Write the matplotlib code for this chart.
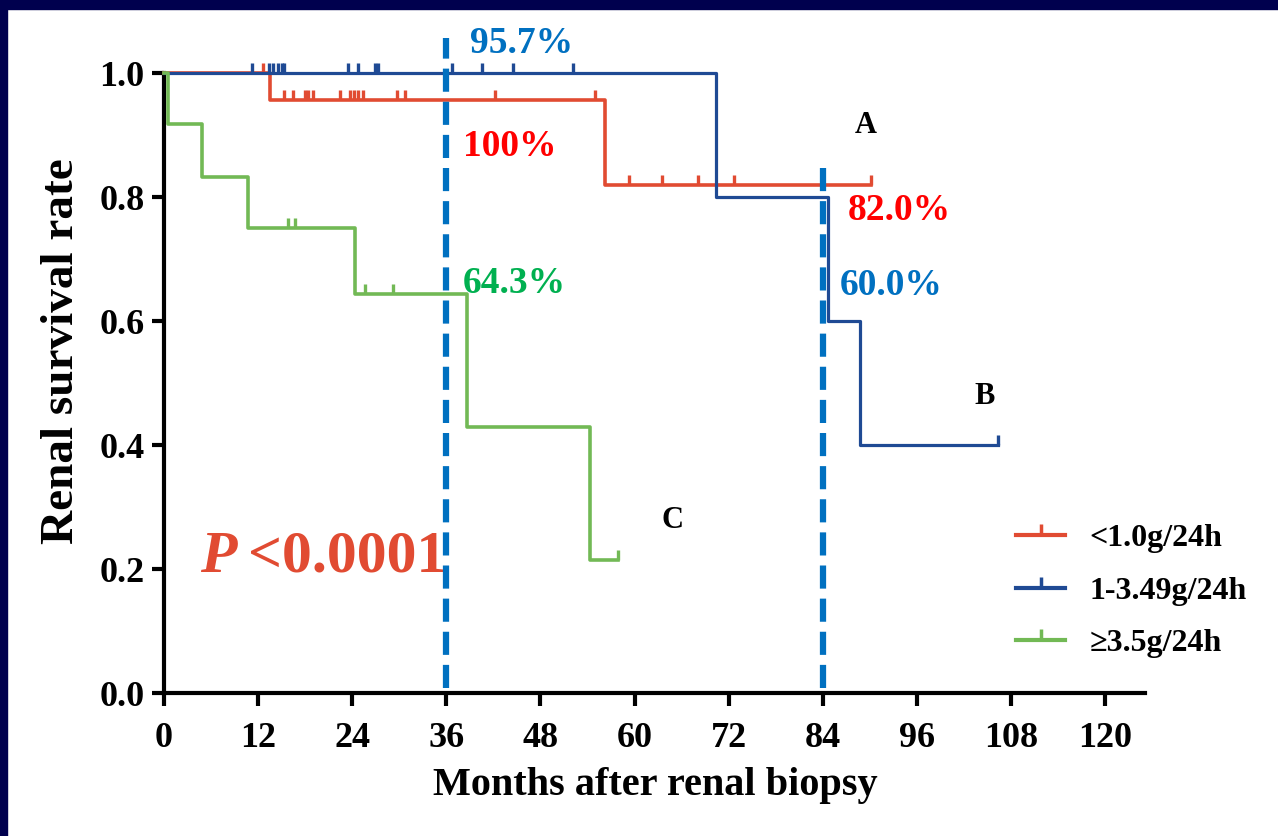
import numpy as np
import matplotlib
matplotlib.use("Agg")
import matplotlib.pyplot as plt
from matplotlib.lines import Line2D
from matplotlib.patches import Rectangle

plt.rcParams['font.family'] = ['Liberation Serif', 'DejaVu Serif']
plt.rcParams['font.weight'] = 'bold'

# --- data ---
groups = ['<1.0g/24h', '1-3.49g/24h', '≥3.5g/24h']
colors = ['#E14B32', '#1F4A94', '#72B955']

red_times = [0, 13.5, 56.3]
red_surv = [1.0, 0.957, 0.820]
red_end = 90.2
red_censor = [12.6, 15.3, 16.5, 18.0, 18.4, 19.0, 22.4, 23.7, 24.2, 24.7, 25.4,
              29.7, 30.7, 42.2, 55.0, 59.3, 63.5, 68.1, 72.7, 90.2]

blue_times = [0, 70.4, 84.7, 88.8]
blue_surv = [1.0, 0.80, 0.60, 0.40]
blue_end = 106.4
blue_censor = [11.2, 13.4, 13.9, 14.5, 15.1, 15.3, 23.5, 24.7, 26.9, 27.3,
               36.7, 40.6, 44.5, 52.2, 106.4]

green_times = [0, 0.5, 4.8, 10.7, 24.4, 38.6, 54.3]
green_surv = [1.0, 0.917, 0.833, 0.75, 0.643, 0.429, 0.214]
green_end = 57.9
green_censor = [15.8, 16.7, 25.6, 29.2, 57.9]

landmarks = [36, 84]
landmark_tops = [1.056, 0.862]

x_ticks = list(range(0, 121, 12))
y_ticks = [0.0, 0.2, 0.4, 0.6, 0.8, 1.0]

# annotations: (text, x, y, color)
pct_labels = [
    ('95.7%', 39.0, 1.048, '#0070C0'),
    ('100%', 38.1, 0.881, '#FF0000'),
    ('64.3%', 38.1, 0.660, '#00B050'),
    ('82.0%', 87.2, 0.779, '#FF0000'),
    ('60.0%', 86.2, 0.658, '#0070C0'),
]
curve_letters = [('A', 89.5, 0.916), ('B', 104.6, 0.479), ('C', 64.8, 0.279)]

W, H = 1278, 836
fig = plt.figure(figsize=(W / 100, H / 100), dpi=100)
fig.patch.set_facecolor('white')
# dark frame on the left and top
fig.add_artist(Rectangle((0, 0), 7 / W, 1, transform=fig.transFigure, color='#00004E', zorder=10))
fig.add_artist(Rectangle((0, 1 - 9 / H), 1, 9 / H, transform=fig.transFigure, color='#00004E', zorder=10))

ax = fig.add_axes([164 / W, 143 / H, 981 / W, 620 / H])
ax.set_xlim(0, 125.1)
ax.set_ylim(0, 1.0)

series = [
    (red_times, red_surv, red_end, red_censor, 2.6),
    (blue_times, blue_surv, blue_end, blue_censor, 2.3),
    (green_times, green_surv, green_end, green_censor, 2.6),
]
for (times, surv, end, censor, lw), col in zip(series, colors):
    xs = list(times) + [end]
    ys = list(surv) + [surv[-1]]
    ax.step(xs, ys, where='post', color=col, lw=lw, clip_on=False, zorder=3)
    idx = np.searchsorted(times, censor, side='right') - 1
    cy = np.array(surv)[idx]
    ax.plot(censor, cy, ls='none', marker=2, markersize=7.5, mew=2.4, color=col,
            clip_on=False, zorder=3)

for xv, top in zip(landmarks, landmark_tops):
    ax.plot([xv, xv], [0.008, top], color='#0070C0', lw=4.5, dashes=(3.7, 1.6),
            clip_on=False, zorder=5)

for txt, xv, yv, col in pct_labels:
    ax.text(xv, yv, txt, color=col, fontsize=27, fontweight='bold', ha='left', va='center')
for txt, xv, yv in curve_letters:
    ax.text(xv, yv, txt, color='black', fontsize=22, fontweight='bold', ha='center', va='center')

ax.text(4.6, 0.218, 'P', color='#E14B32', fontsize=43, fontweight='bold', style='italic',
        ha='left', va='center')
ax.text(10.7, 0.218, '<0.0001', color='#E14B32', fontsize=43, fontweight='bold',
        ha='left', va='center')

for side in ['top', 'right']:
    ax.spines[side].set_visible(False)
for side in ['left', 'bottom']:
    ax.spines[side].set_linewidth(3)
ax.set_xticks(x_ticks)
ax.set_yticks(y_ticks)
ax.set_yticklabels([f'{v:.1f}' for v in y_ticks])
ax.tick_params(direction='out', length=9, width=3, labelsize=26)
ax.tick_params(axis='x', pad=12)
ax.tick_params(axis='y', pad=5)
for lab in ax.get_xticklabels() + ax.get_yticklabels():
    lab.set_fontweight('bold')

fig.text(655 / W, 1 - 785 / H, 'Months after renal biopsy', fontsize=29, fontweight='bold',
         ha='center', va='center')
fig.text(62 / W, 1 - 351 / H, 'Renal survival rate', fontsize=34, fontweight='bold',
         ha='center', va='center', rotation=90)

handles = [Line2D([0], [0], color=c, lw=3, marker=2, markersize=8, mew=2.5) for c in colors]
leg = ax.legend(handles, groups, loc='upper left', bbox_to_anchor=(1000 / W, 1 - 508 / H),
                bbox_transform=fig.transFigure, frameon=False, fontsize=23, numpoints=1,
                handlelength=1.55, handletextpad=0.75, labelspacing=0.72, borderpad=0)
for t in leg.get_texts():
    t.set_fontweight('bold')

fig.savefig('out.png', dpi=100)
